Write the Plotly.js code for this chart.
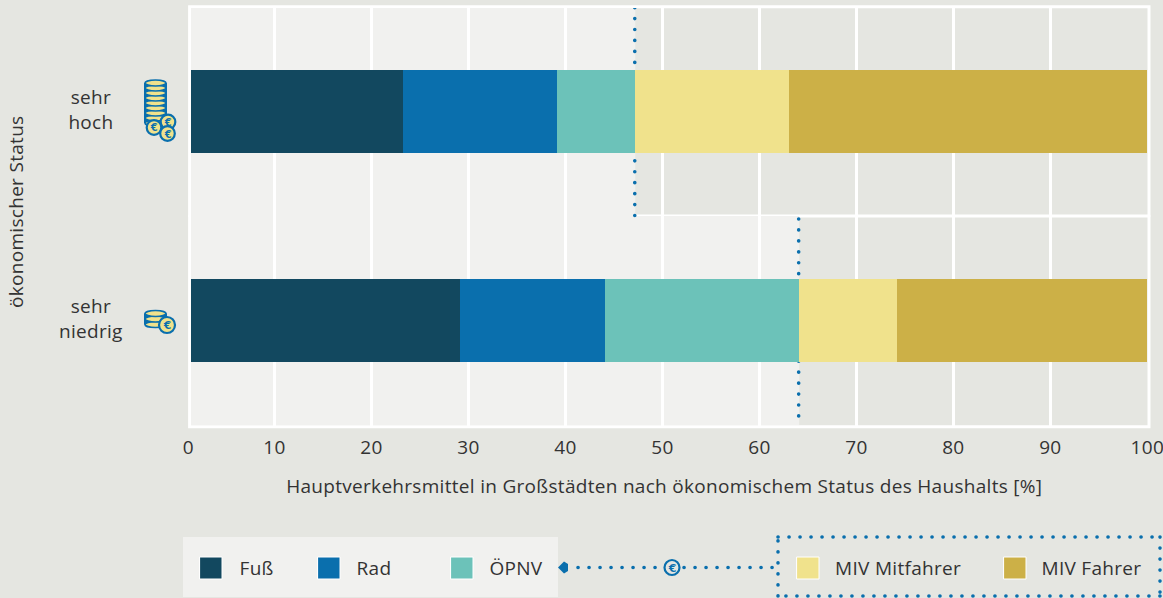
<!DOCTYPE html>
<html><head><meta charset="utf-8">
<script src="https://cdn.plot.ly/plotly-3.0.1.min.js"></script>
<style>
html,body{margin:0;padding:0;background:#e5e6e1}
#c{width:1163px;height:598px}
.shapelayer path{stroke-linecap:round}
.main-svg text{letter-spacing:.3px;font-weight:300}
</style></head><body><div id="c"></div>
<script>
const categories = ['sehr niedrig','sehr hoch'];
const categoryLines = ['sehr<br>niedrig','sehr<br>hoch'];
const seriesNames = ['Fuß','Rad','ÖPNV','MIV Mitfahrer','MIV Fahrer'];
const seriesColors = ['#12485f','#0a6fad','#6cc2b9','#f0e28c','#ccb047'];
const fuss = [29.1,23.3];
const rad = [15.0,15.8];
const oepnv = [20.0,8.1];
const mivMitfahrer = [10.1,15.9];
const mivFahrer = [25.8,36.9];
const umweltverbund = [64.1,47.2];
const tickValues = [10,20,30,40,50,60,70,80,90,100];
const xTitle = 'Hauptverkehrsmittel in Großstädten nach ökonomischem Status des Haushalts [%]&nbsp;&nbsp;';
const yTitle = '&nbsp;&nbsp;ökonomischer Status';

const FONT='Open Sans', TXT='#333', FS=19;
const BLUE='#0a6fad', YEL='#f0e28c', PANEL='#f1f1ef', BG='#e5e6e1';
const W=1163,H=598,L=191,R=1148,T=8,B=426;
const X=p=>(p-L)/(R-L), Y=p=>1-(p-T)/(B-T);
const values=[fuss,rad,oepnv,mivMitfahrer,mivFahrer];
const traces=seriesNames.map((n,i)=>({type:'bar',orientation:'h',name:n,y:categories,x:values[i],width:0.397,
  marker:{color:seriesColors[i],line:{width:0}},showlegend:false,hoverinfo:'x+name'}));

const shapes=[], annotations=[];
const pRect=(x0,y0,x1,y1,o)=>shapes.push(Object.assign({type:'rect',xref:'paper',yref:'paper',x0:X(x0),x1:X(x1),y0:Y(y0),y1:Y(y1),line:{width:0}},o));
const pCirc=(cx,cy,rx,ry,o)=>shapes.push(Object.assign({type:'circle',xref:'paper',yref:'paper',x0:X(cx-rx),x1:X(cx+rx),y0:Y(cy-ry),y1:Y(cy+ry)},o));
const pLine=(x0,y0,x1,y1,dash,w)=>shapes.push({type:'line',xref:'paper',yref:'paper',x0:X(x0),x1:X(x1),y0:Y(y0),y1:Y(y1),line:{color:BLUE,width:w||3.6,dash:dash}});
const pText=(t,x,y,size,o)=>annotations.push(Object.assign({text:t,xref:'paper',yref:'paper',x:X(x),y:Y(y),showarrow:false,font:{family:FONT,size:size,color:TXT},xanchor:'center',yanchor:'middle'},o));
const DOT='0.1px,10.9px', VDOT='0.1px,10.84px';

// light left-hand panels, behind the grid
categories.forEach((c,i)=>{
  shapes.push({type:'rect',layer:'below',xref:'x',yref:'y',x0:0,x1:umweltverbund[i],y0:i-0.5,y1:i+0.5,fillcolor:PANEL,line:{width:0}});
});
// frame and separator
const fr={type:'rect',layer:'between',xref:'paper',yref:'paper',x0:X(189.6),x1:X(1149),y0:Y(6.8),y1:Y(426.7),line:{color:'#fff',width:3},fillcolor:'rgba(0,0,0,0)'};
shapes.push(fr);
shapes.push({type:'line',layer:'between',xref:'paper',yref:'y',x0:X(189.6),x1:X(1149),y0:0.5,y1:0.5,line:{color:'#fff',width:3}});
// dotted reference lines
const dotSpan=[[0.4856,-0.46],[1.497,0.5]];
categories.forEach((c,i)=>{
  shapes.push({type:'line',layer:'between',xref:'x',yref:'y',x0:umweltverbund[i]-0.05,x1:umweltverbund[i]-0.05,y0:dotSpan[i][0],y1:dotSpan[i][1],line:{color:BLUE,width:3.6,dash:VDOT}});
});
// coin icons
function stack(cx,top,n,gap,rx,ry){
  pRect(cx-rx-1,top,cx+rx+1,top+(n-1)*gap,{fillcolor:BLUE});
  for(let k=n-1;k>=0;k--) pCirc(cx,top+k*gap,rx,ry,{fillcolor:YEL,line:{color:BLUE,width:1.7}});
}
function coin(cx,cy,r){
  pCirc(cx,cy,r,r,{fillcolor:YEL,line:{color:BLUE,width:2.2}});
  pText('<b>€</b>',cx,cy+0.5,r*1.35,{font:{family:'DejaVu Sans',size:r*1.35,color:BLUE}});
}
stack(155.5,83,9,5,10.5,3);
coin(168,122,7.3);coin(154,127.5,7.3);coin(167.5,133.5,7.3);
stack(155.5,313.5,3,5.5,10.5,3);
coin(167,325,8);
// legend panel
pRect(183,537,558,597,{fillcolor:PANEL});
const swatches=[200,318,451,797,1004], labels=[238,355,488,835,1041];
seriesNames.forEach((n,i)=>{
  pRect(swatches[i],557,swatches[i]+22,579,{fillcolor:seriesColors[i],line:{color:'#fff',width:1}});
  pText(n,labels[i],568,FS,{xanchor:'left'});
});
// connector
pLine(578,567.5,664,567.5,DOT);
pLine(684,567.5,776,567.5,DOT);
shapes.push({type:'path',xref:'paper',yref:'paper',path:`M ${X(558)} ${Y(567.5)} L ${X(564)} ${Y(561.5)} L ${X(568)} ${Y(564)} L ${X(568)} ${Y(571)} L ${X(564)} ${Y(573.5)} Z`,fillcolor:BLUE,line:{width:0}});
pCirc(672,567.5,7.5,7.5,{fillcolor:BG,line:{color:BLUE,width:2.2}});
pText('<b>€</b>',672,568,11,{font:{family:'DejaVu Sans',size:11,color:BLUE}});
// dotted box
pLine(778,537,1160,537,DOT);pLine(1160,537,1160,596,DOT);pLine(1160,596,778,596,DOT);pLine(778,596,778,537,DOT);
// category labels and zero tick
categories.forEach((c,i)=>annotations.push({text:categoryLines[i],xref:'paper',yref:'y',x:X(91),y:c,yshift:2,showarrow:false,align:'center',xanchor:'center',yanchor:'middle',font:{family:FONT,size:FS,color:TXT}}));
pText('0',188,447,FS);

Plotly.newPlot('c',traces,{
  width:W,height:H,barmode:'stack',showlegend:false,
  paper_bgcolor:BG,plot_bgcolor:BG,
  margin:{l:L,r:W-R,t:T,b:H-B,pad:0},
  font:{family:FONT,size:FS,color:TXT},
  xaxis:{range:[1.392,100.07],tickmode:'array',tickvals:tickValues,ticktext:tickValues.map(String),ticks:'outside',ticklen:4,tickcolor:'rgba(0,0,0,0)',ticklabeloverflow:'allow',
    gridcolor:'#fff',gridwidth:3,zeroline:false,showline:false,tickfont:{family:FONT,size:FS,color:TXT},automargin:false,
    title:{text:xTitle,standoff:20,font:{family:FONT,size:FS,color:TXT}}},
  yaxis:{type:'category',categoryorder:'array',categoryarray:categories,range:[-0.505,1.495],showgrid:false,zeroline:false,showticklabels:false,ticks:'',automargin:false,
    title:{text:yTitle,standoff:161,font:{family:FONT,size:FS,color:TXT}}},
  shapes,annotations
},{displayModeBar:false,responsive:false});
</script></body></html>
